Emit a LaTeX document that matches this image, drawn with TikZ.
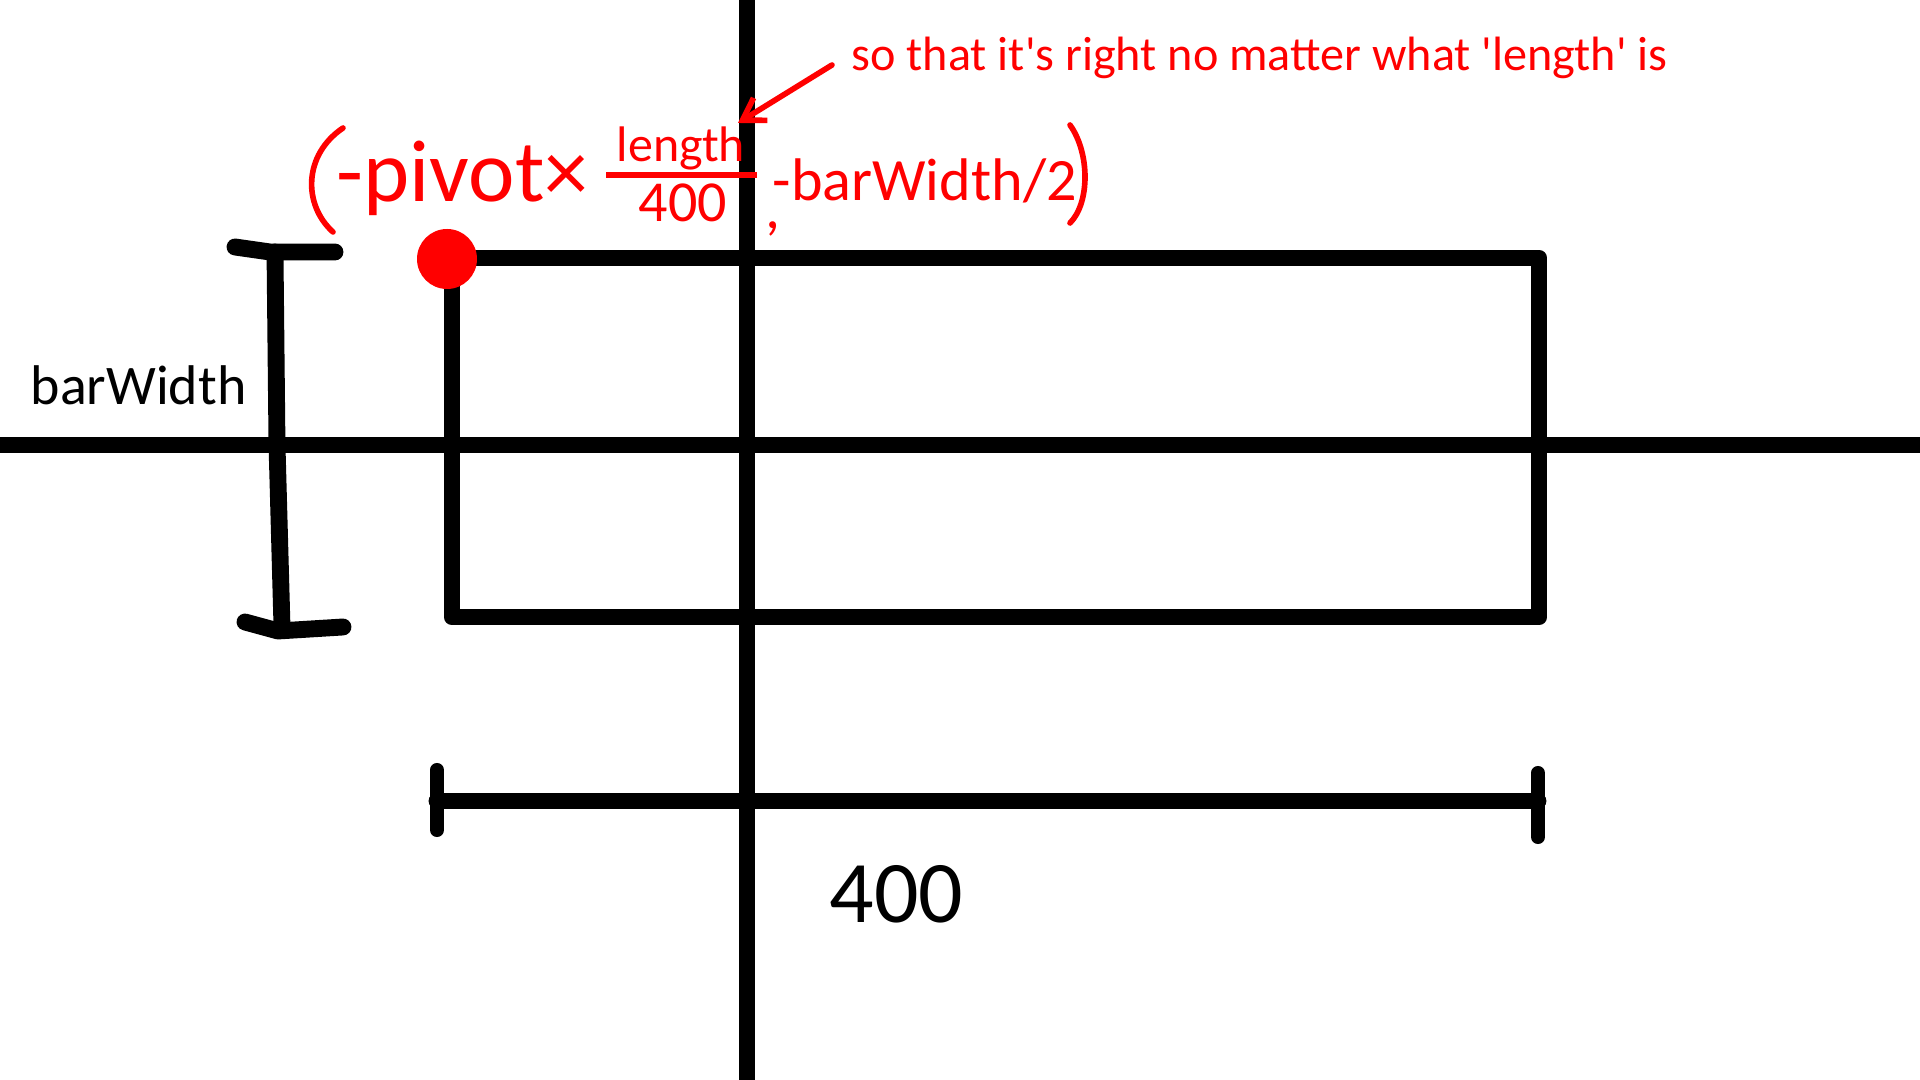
\documentclass[tikz,border=0pt]{standalone}
\usepackage{fontspec}
\setmainfont{Carlito}[Ligatures=TeXOff]
\usepackage{tikz}
\usetikzlibrary{arrows.meta}
\tikzstyle{ink} = [line width=4.8pt, line cap=round, line join=round]
\tikzstyle{axis} = [line width=4.4pt]
\tikzstyle{pen} = [red, line width=1.6pt, line cap=round]
\tikzstyle{arrow} = [pen, ->, >={Straight Barb[length=6pt,width=7.5pt]}]
\tikzstyle{lbl} = [inner sep=0pt, anchor=base west]

\begin{document}
\begin{tikzpicture}[x=0.01cm, y=-0.01cm]
		\useasboundingbox (0,0) rectangle (1920,1080);
		% axes
		\draw[axis] (747,0) -- (747,1080);
		\draw[axis] (0,445) -- (1920,445);

		% bar and its corner
		\draw[ink] (452,258) rectangle (1539,617);
		\fill[red] (447,259) circle (30);

		% barWidth bracket
		\draw[ink] (235,247) -- (270,252) -- (335,252);
		\draw[ink] (275,252) -- (277,445) -- (282,627);
		\draw[ink] (245,622) -- (278,631) -- (343,627);
		\node[lbl, font=\fontsize{15.9}{19}\selectfont] (bw) at (30,405) {barWidth};

		% length of the bar
		\draw[ink] (437,801) -- (1538,801);
		\draw[ink, line width=4pt] (437,770) -- (437,830);
		\draw[ink, line width=4pt] (1538,773) -- (1538,837);
		\node[lbl, font=\fontsize{25}{30}\selectfont] (len) at (829,923) {400};

		% corner position
		\draw[pen] (343,128) .. controls (303,155) and (303,205) .. (333,232);
		\node[lbl, red, font=\fontsize{25}{30}\selectfont] (piv) at (336,202) {-pivot×};
		\draw[red, line width=1.5pt] (606,175) -- (757,175);
		\node[red, inner sep=0pt, anchor=base, font=\fontsize{14.2}{17}\selectfont] (num) at (681,162) {length};
		\node[red, inner sep=0pt, anchor=base, font=\fontsize{16.5}{20}\selectfont] (den) at (683,222) {400};
		\node[lbl, red, font=\fontsize{17.1}{20}\selectfont] (comma) at (765,229) {,};
		\node[lbl, red, font=\fontsize{17.1}{20}\selectfont] (half) at (772,201) {-barWidth/2};
		\draw[pen] (1070,125) .. controls (1090,153) and (1090,203) .. (1070,223);

		% note
		\node[lbl, red, font=\fontsize{13.7}{16}\selectfont] (note) at (851,71) {so that it's right no matter what 'length' is};
		\coordinate (tail) at (832,65);
		\coordinate (tip) at (738,123);
		\draw[arrow] (tail) -- (tip);
\end{tikzpicture}
\end{document}
